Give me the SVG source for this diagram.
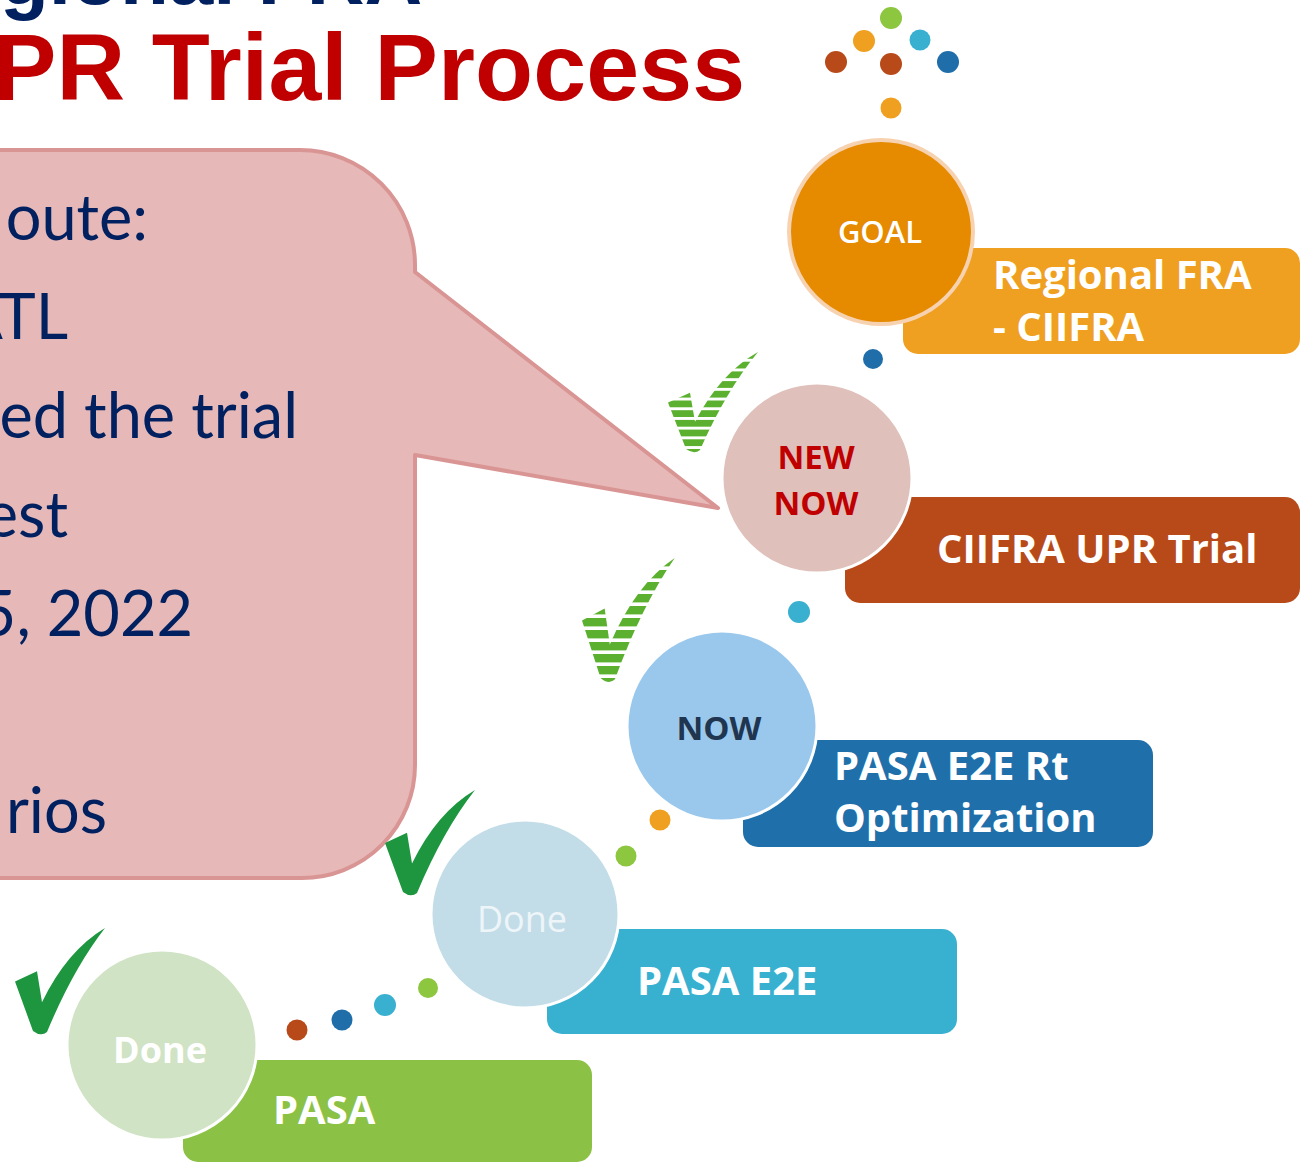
<svg xmlns="http://www.w3.org/2000/svg" width="1314" height="1162" viewBox="0 0 1314 1162">
<style>
.title{font-family:"Liberation Sans",Arial,sans-serif;font-weight:bold}
.bub{font-family:"Lato","Open Sans",sans-serif;font-size:63px;fill:#002060}
.lbl{font-family:"Open Sans","Liberation Sans",sans-serif;font-weight:bold;font-size:40px;fill:#ffffff}
.ctx{font-family:"Open Sans","Liberation Sans",sans-serif;text-anchor:middle}
.circ{stroke:#ffffff;stroke-width:3}
.solid{fill:#1E9640}
.striped{fill:url(#stripes)}
</style>
<defs>
<pattern id="stripes" patternUnits="userSpaceOnUse" width="20" height="10">
<rect width="20" height="10" fill="#ffffff"/>
<rect width="20" height="7" fill="#5BB12F"/>
</pattern>
<path id="check" d="M90 0 Q58 40 32 101 Q26 106 18 100 L0 52 L22 42 L27 72 Q52 22 90 0 Z"/>
</defs>

<rect width="1314" height="1162" fill="#ffffff"/>

<g id="title">
<text class="title" x="0" y="4" font-size="80" fill="#002060">gional FRA</text>
<text class="title" x="-7" y="100" font-size="95" fill="#C00000" textLength="752">PR Trial Process</text>
</g>

<g id="logo-dots">
<circle cx="891" cy="18" r="11" fill="#8DC63F"/>
<circle cx="864" cy="41" r="11" fill="#F0A020"/>
<circle cx="920" cy="40" r="10.5" fill="#3AB0D0"/>
<circle cx="836" cy="62" r="11" fill="#B84A1A"/>
<circle cx="891" cy="64" r="11" fill="#B84A1A"/>
<circle cx="948" cy="62" r="11" fill="#1F6EAA"/>
<circle cx="891" cy="108" r="10.5" fill="#F0A020"/>
</g>

<g id="callout">
<path d="M-20 150 L300 150 A115 115 0 0 1 415 265 L415 272 L718 508 L415 455 L415 765 A113 113 0 0 1 302 878 L-20 878 Z" fill="#E6B8B7" stroke="#D99594" stroke-width="4" stroke-linejoin="round"/>
<text class="bub" x="148" y="240" text-anchor="end">oute:</text>
<text class="bub" x="68" y="339" text-anchor="end">ATL</text>
<text class="bub" x="298" y="438" text-anchor="end">ed the trial</text>
<text class="bub" x="68" y="537" text-anchor="end">est</text>
<text class="bub" x="193" y="636" text-anchor="end">5, 2022</text>
<text class="bub" x="107" y="833" text-anchor="end">rios</text>
</g>

<g id="connectors">
<circle cx="873" cy="359" r="10" fill="#1F6EAA"/>
<circle cx="799" cy="612" r="11" fill="#3AB0D0"/>
<circle cx="660" cy="820" r="10.5" fill="#F0A020"/>
<circle cx="626" cy="856" r="10.5" fill="#8DC63F"/>
<circle cx="428" cy="988" r="10" fill="#8DC63F"/>
<circle cx="385" cy="1005" r="11" fill="#3AB0D0"/>
<circle cx="342" cy="1020" r="10.5" fill="#1F6EAA"/>
<circle cx="297" cy="1030" r="10.5" fill="#B84A1A"/>
</g>

<g id="checks">
<use href="#check" class="striped" transform="translate(668 352) scale(1 0.97)"/>
<use href="#check" class="striped" transform="translate(582 558) scale(1.03 1.2)"/>
<use href="#check" class="solid" transform="translate(385 790) scale(1 1.02)"/>
<use href="#check" class="solid" transform="translate(15 928) scale(1 1.03)"/>
</g>

<g id="node-goal">
<rect x="903" y="248" width="397" height="106" rx="15" fill="#F0A020"/>
<circle cx="881" cy="232" r="92" fill="#E68A00" stroke="#F6D2B0" stroke-width="4"/>
<text class="ctx" x="880" y="243" font-size="31" font-weight="600" fill="#ffffff">GOAL</text>
<text class="lbl" x="993" y="289">Regional FRA</text>
<text class="lbl" x="993" y="341">- CIIFRA</text>
</g>

<g id="node-new-now">
<rect x="845" y="497" width="455" height="106" rx="15" fill="#B84A1A"/>
<circle class="circ" cx="817" cy="478" r="95" fill="#DFC0BA"/>
<text class="ctx" x="816" y="469" font-size="33" font-weight="bold" fill="#C00000">NEW</text>
<text class="ctx" x="816" y="515" font-size="33" font-weight="bold" fill="#C00000">NOW</text>
<text class="lbl" x="937" y="563">CIIFRA UPR Trial</text>
</g>

<g id="node-now">
<rect x="743" y="740" width="410" height="107" rx="15" fill="#1F6FAA"/>
<circle class="circ" cx="722" cy="726" r="95" fill="#9AC8EC"/>
<text class="ctx" x="719" y="740" font-size="33" font-weight="bold" fill="#1F3550">NOW</text>
<text class="lbl" x="834" y="780">PASA E2E Rt</text>
<text class="lbl" x="834" y="832">Optimization</text>
</g>

<g id="node-pasa-e2e">
<rect x="547" y="929" width="410" height="105" rx="15" fill="#38B0D0"/>
<circle class="circ" cx="525" cy="914" r="94" fill="#C2DDE8"/>
<text class="ctx" x="522" y="932" font-size="36" fill="#EEF5F8">Done</text>
<text class="lbl" x="637" y="995">PASA E2E</text>
</g>

<g id="node-pasa">
<rect x="183" y="1060" width="409" height="102" rx="15" fill="#8BC145"/>
<circle class="circ" cx="162" cy="1045" r="95" fill="#D0E3C4"/>
<text class="ctx" x="160" y="1063" font-size="36" font-weight="bold" fill="#ffffff">Done</text>
<text class="lbl" x="273" y="1124">PASA</text>
</g>
</svg>
